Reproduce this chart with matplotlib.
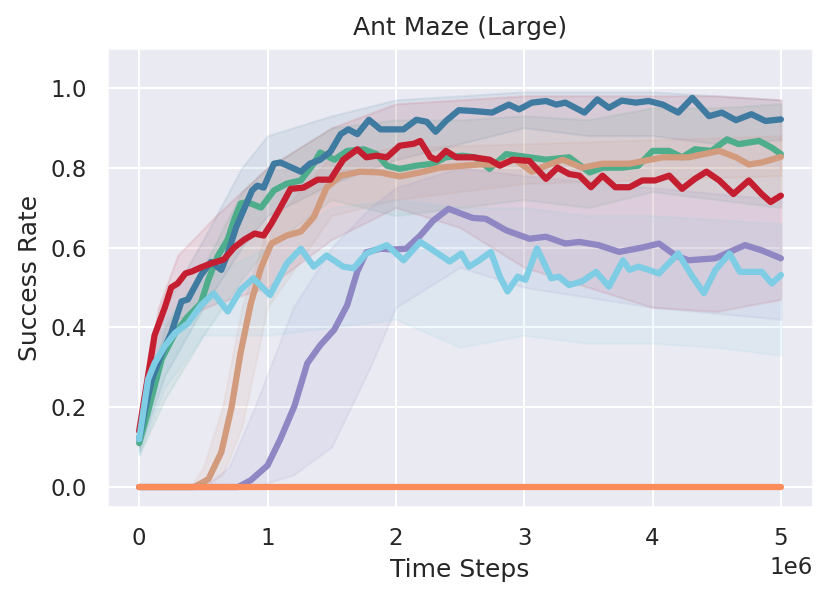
import matplotlib
matplotlib.use("Agg")
import matplotlib.pyplot as plt
import seaborn as sns

# time in units of 1e6 steps
blue_t = [0, 0.05, 0.1, 0.17, 0.25, 0.33, 0.38, 0.42, 0.48, 0.56, 0.64, 0.69, 0.755, 0.79, 0.88, 0.92,
          0.97, 1.05, 1.10, 1.26, 1.33, 1.41, 1.49, 1.57, 1.63, 1.70, 1.79, 1.88, 1.98, 2.06, 2.16, 2.24,
          2.31, 2.39, 2.49, 2.60, 2.75, 2.88, 2.96, 3.06, 3.17, 3.25, 3.32, 3.47, 3.57, 3.66, 3.76, 3.87,
          3.97, 4.08, 4.20, 4.31, 4.44, 4.54, 4.65, 4.77, 4.88, 5.0]
blue_v = [0.12, 0.20, 0.27, 0.33, 0.386, 0.465, 0.47, 0.494, 0.53, 0.564, 0.544, 0.585, 0.65, 0.676, 0.743,
          0.755, 0.75, 0.81, 0.813, 0.79, 0.81, 0.82, 0.84, 0.884, 0.896, 0.884, 0.92, 0.896, 0.896, 0.896,
          0.92, 0.915, 0.89, 0.917, 0.944, 0.942, 0.938, 0.958, 0.946, 0.963, 0.967, 0.958, 0.963, 0.938,
          0.971, 0.95, 0.968, 0.963, 0.967, 0.958, 0.938, 0.975, 0.929, 0.938, 0.919, 0.934, 0.917, 0.921]
blue_bt = [0, 0.2, 0.5, 0.8, 1.0, 1.5, 2.0, 2.5, 3.0, 3.5, 4.0, 4.5, 5.0]
blue_lo = [0.09, 0.28, 0.45, 0.6, 0.68, 0.76, 0.82, 0.86, 0.9, 0.88, 0.88, 0.86, 0.87]
blue_hi = [0.16, 0.45, 0.62, 0.8, 0.88, 0.93, 0.97, 0.98, 0.99, 0.99, 0.99, 0.98, 0.97]

green_t = [0, 0.07, 0.175, 0.28, 0.38, 0.48, 0.54, 0.61, 0.69, 0.74, 0.79, 0.84, 0.95, 1.05, 1.15, 1.26,
           1.36, 1.41, 1.52, 1.62, 1.75, 1.85, 1.93, 2.03, 2.16, 2.29, 2.39, 2.52, 2.62, 2.73, 2.86, 3.04,
           3.17, 3.35, 3.51, 3.61, 3.76, 3.89, 4.0, 4.13, 4.23, 4.33, 4.46, 4.58, 4.67, 4.83, 4.93, 5.0]
green_v = [0.11, 0.19, 0.32, 0.386, 0.427, 0.46, 0.52, 0.577, 0.62, 0.67, 0.71, 0.714, 0.70, 0.743, 0.76,
           0.768, 0.81, 0.838, 0.82, 0.842, 0.846, 0.834, 0.805, 0.797, 0.805, 0.81, 0.826, 0.83, 0.826,
           0.797, 0.834, 0.826, 0.82, 0.826, 0.788, 0.80, 0.80, 0.805, 0.842, 0.842, 0.826, 0.846, 0.842,
           0.871, 0.859, 0.867, 0.85, 0.834]
green_bt = [0, 0.2, 0.5, 0.8, 1.0, 1.5, 2.0, 2.5, 3.0, 3.5, 4.0, 4.5, 5.0]
green_lo = [0.08, 0.22, 0.38, 0.52, 0.6, 0.72, 0.68, 0.7, 0.72, 0.7, 0.74, 0.72, 0.7]
green_hi = [0.14, 0.4, 0.55, 0.74, 0.8, 0.9, 0.92, 0.92, 0.93, 0.92, 0.95, 0.95, 0.96]

red_t = [0, 0.07, 0.12, 0.2, 0.25, 0.30, 0.36, 0.41, 0.48, 0.56, 0.61, 0.66, 0.74, 0.82, 0.9, 0.97, 1.03,
         1.1, 1.18, 1.28, 1.39, 1.49, 1.59, 1.70, 1.77, 1.85, 1.93, 2.03, 2.14, 2.19, 2.27, 2.32, 2.39,
         2.47, 2.60, 2.73, 2.81, 2.91, 3.04, 3.17, 3.26, 3.35, 3.43, 3.52, 3.61, 3.71, 3.82, 3.92, 4.02,
         4.13, 4.23, 4.33, 4.42, 4.52, 4.63, 4.75, 4.85, 4.92, 5.0]
red_v = [0.14, 0.28, 0.38, 0.45, 0.50, 0.51, 0.535, 0.54, 0.55, 0.56, 0.565, 0.57, 0.60, 0.62, 0.635, 0.63,
         0.66, 0.70, 0.747, 0.75, 0.77, 0.77, 0.82, 0.846, 0.826, 0.83, 0.826, 0.855, 0.86, 0.867, 0.826,
         0.82, 0.842, 0.826, 0.826, 0.82, 0.805, 0.82, 0.817, 0.772, 0.80, 0.784, 0.78, 0.751, 0.78, 0.751,
         0.751, 0.768, 0.768, 0.78, 0.747, 0.772, 0.79, 0.768, 0.734, 0.768, 0.734, 0.714, 0.73]
red_bt = [0, 0.15, 0.3, 0.6, 1.0, 1.5, 2.0, 2.5, 3.0, 3.5, 4.0, 4.5, 5.0]
red_lo = [0.10, 0.3, 0.42, 0.46, 0.5, 0.62, 0.7, 0.65, 0.55, 0.5, 0.45, 0.44, 0.47]
red_hi = [0.18, 0.45, 0.58, 0.68, 0.8, 0.9, 0.96, 0.97, 0.98, 0.98, 0.98, 0.98, 0.97]

tan_t = [0, 0.43, 0.54, 0.64, 0.72, 0.79, 0.87, 0.95, 1.03, 1.15, 1.26, 1.36, 1.46, 1.57, 1.72, 1.88, 2.03,
         2.19, 2.34, 2.49, 2.65, 2.80, 2.93, 3.06, 3.17, 3.30, 3.45, 3.61, 3.82, 4.08, 4.28, 4.52, 4.65,
         4.75, 4.85, 5.0]
tan_v = [0, 0, 0.02, 0.087, 0.20, 0.336, 0.46, 0.55, 0.61, 0.63, 0.64, 0.676, 0.75, 0.78, 0.79, 0.788,
         0.778, 0.788, 0.80, 0.804, 0.808, 0.808, 0.82, 0.79, 0.805, 0.82, 0.80, 0.81, 0.81, 0.826, 0.826,
         0.842, 0.826, 0.808, 0.813, 0.827]
tan_bt = [0, 0.4, 0.5, 0.65, 0.8, 1.0, 1.5, 2.0, 3.0, 4.0, 5.0]
tan_lo = [0, 0, 0, 0.03, 0.15, 0.45, 0.68, 0.72, 0.76, 0.77, 0.78]
tan_hi = [0, 0, 0.05, 0.2, 0.45, 0.65, 0.83, 0.85, 0.86, 0.87, 0.88]

purple_t = [0, 0.77, 0.87, 1.0, 1.10, 1.21, 1.31, 1.41, 1.52, 1.62, 1.70, 1.77, 1.88, 1.98, 2.08, 2.19,
            2.29, 2.41, 2.50, 2.60, 2.70, 2.86, 3.04, 3.17, 3.32, 3.43, 3.58, 3.74, 3.92, 4.05, 4.18, 4.28,
            4.49, 4.72, 4.85, 5.0]
purple_v = [0, 0, 0.017, 0.054, 0.12, 0.203, 0.31, 0.355, 0.394, 0.455, 0.54, 0.588, 0.597, 0.595, 0.597,
            0.63, 0.667, 0.697, 0.686, 0.674, 0.672, 0.643, 0.622, 0.627, 0.61, 0.614, 0.606, 0.589, 0.60,
            0.61, 0.58, 0.568, 0.573, 0.606, 0.593, 0.573]
purple_bt = [0, 0.5, 0.7, 0.9, 1.2, 1.5, 1.8, 2.0, 2.5, 3.0, 4.0, 5.0]
purple_lo = [0, 0, 0, 0, 0.03, 0.1, 0.3, 0.45, 0.55, 0.5, 0.45, 0.42]
purple_hi = [0, 0, 0.05, 0.2, 0.45, 0.6, 0.7, 0.75, 0.8, 0.78, 0.75, 0.72]

cyan_t = [0, 0.07, 0.12, 0.2, 0.28, 0.38, 0.48, 0.58, 0.69, 0.79, 0.89, 1.02, 1.15, 1.26, 1.36, 1.46,
          1.59, 1.67, 1.77, 1.93, 2.06, 2.19, 2.29, 2.42, 2.51, 2.57, 2.65, 2.74, 2.81, 2.87, 2.95, 3.01,
          3.10, 3.21, 3.27, 3.35, 3.45, 3.56, 3.66, 3.77, 3.82, 3.89, 3.97, 4.05, 4.20, 4.31, 4.40, 4.49,
          4.60, 4.68, 4.85, 4.93, 5.0]
cyan_v = [0.12, 0.27, 0.31, 0.353, 0.386, 0.41, 0.455, 0.485, 0.44, 0.494, 0.523, 0.481, 0.56, 0.597,
          0.552, 0.58, 0.552, 0.548, 0.585, 0.606, 0.568, 0.614, 0.593, 0.565, 0.585, 0.552, 0.568, 0.589,
          0.527, 0.49, 0.527, 0.519, 0.598, 0.523, 0.527, 0.506, 0.515, 0.539, 0.502, 0.568, 0.544, 0.552,
          0.544, 0.535, 0.585, 0.527, 0.486, 0.544, 0.585, 0.539, 0.539, 0.51, 0.531]
cyan_bt = [0, 0.2, 0.5, 1.0, 1.5, 2.0, 2.5, 3.0, 3.5, 4.0, 4.5, 5.0]
cyan_lo = [0.08, 0.25, 0.38, 0.38, 0.4, 0.42, 0.35, 0.38, 0.36, 0.36, 0.35, 0.33]
cyan_hi = [0.14, 0.42, 0.52, 0.6, 0.7, 0.72, 0.7, 0.7, 0.68, 0.68, 0.67, 0.66]

orange_t = [0, 1, 2, 3, 4, 5]
orange_v = [0, 0, 0, 0, 0, 0]

series = [
    (green_t, green_v, green_bt, green_lo, green_hi, "#4eae8c"),
    (blue_t, blue_v, blue_bt, blue_lo, blue_hi, "#3f7aa0"),
    (tan_t, tan_v, tan_bt, tan_lo, tan_hi, "#d29b7d"),
    (red_t, red_v, red_bt, red_lo, red_hi, "#c41e30"),
    (purple_t, purple_v, purple_bt, purple_lo, purple_hi, "#8f86c4"),
    (cyan_t, cyan_v, cyan_bt, cyan_lo, cyan_hi, "#7ecde5"),
]

sns.set()
fig = plt.figure(figsize=(830 / 150, 599 / 150), dpi=150)
ax = fig.add_axes([0.129, 0.1536, 0.8505, 0.7664])

for t, v, bt, lo, hi, c in series:
    ax.fill_between([x * 1e6 for x in bt], lo, hi, color=c, alpha=0.1)
for t, v, bt, lo, hi, c in series:
    ax.plot([x * 1e6 for x in t], v, color=c, lw=3, solid_capstyle="round", solid_joinstyle="round")
ax.plot([x * 1e6 for x in orange_t], orange_v, color="#f98c5a", lw=3, solid_capstyle="round")

ax.set_ylim(-0.05, 1.1)
ax.set_yticks([0.0, 0.2, 0.4, 0.6, 0.8, 1.0])
ax.set_xlabel("Time Steps")
ax.set_ylabel("Success Rate")
ax.set_title("Ant Maze (Large)")

fig.savefig("out.png", dpi=150)
